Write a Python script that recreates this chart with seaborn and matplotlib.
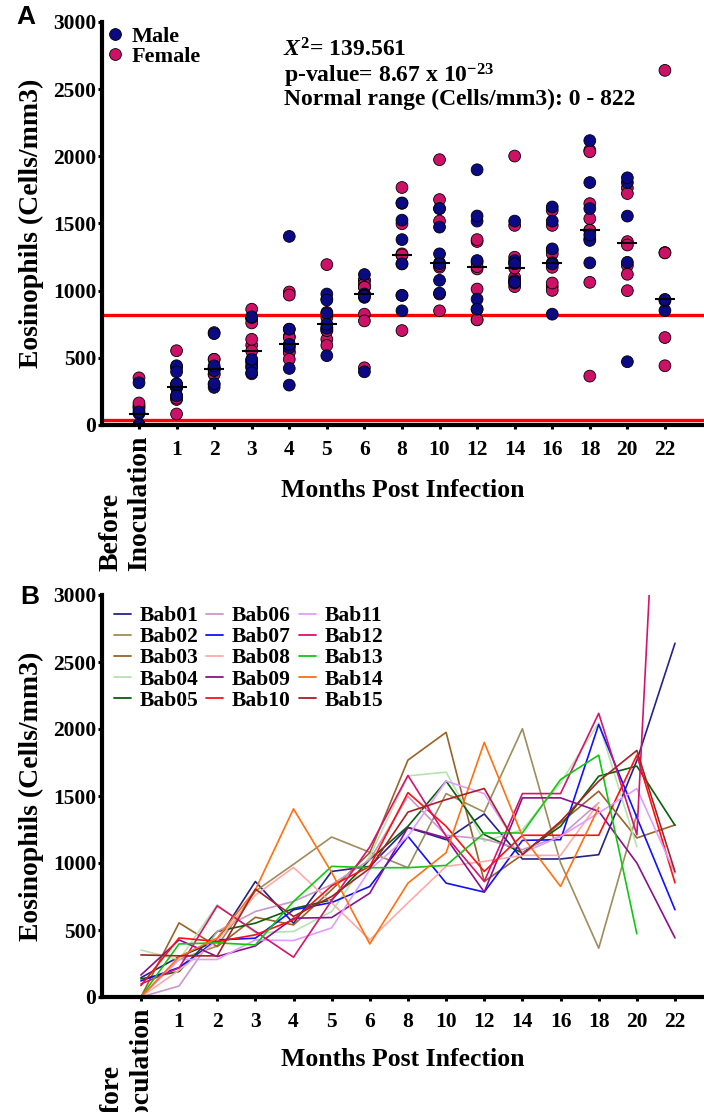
import numpy as np
import pandas as pd
import matplotlib
matplotlib.use("Agg")
import matplotlib.pyplot as plt
from matplotlib.lines import Line2D
from matplotlib.transforms import ScaledTranslation
import seaborn as sns

# Time points (months post infection)
MONTHS = ["Before\nInoculation", "1", "2", "3", "4", "5", "6", "8",
          "10", "12", "14", "16", "18", "20", "22"]

nan = np.nan
# Eosinophil counts (cells/mm3), one value per time point and animal
BAB01 = [144, 300, 420, 862, 550, 937, 975, 1264, 1174, 1366, 1030, 1030, 1062, 1765, 2640]
BAB02 = [0, 280, 380, 790, 990, 1194, 1080, 965, 1518, 1380, 2002, 1002, 364, 1365, nan]
BAB03 = [0, 553, 376, 595, 538, 800, 1077, 1768, 1975, 862, 1062, 1299, 1536, 1187, 1284]
BAB04 = [351, 277, 688, 479, 489, 638, 1050, 1650, 1678, 1162, 1249, 1598, 2045, 1122, nan]
BAB05 = [135, 190, 489, 551, 660, 725, 1025, 1274, 1611, 1212, 1075, 1274, 1648, 1723, 1281]
BAB06 = [0, 82, 489, 638, 713, 838, 1025, 1498, 1207, 1179, 1100, 1200, 1450, nan, nan]
BAB07 = [120, 220, 426, 439, 651, 705, 825, 1199, 850, 783, 1169, 1174, 2034, 1340, 651]
BAB08 = [0, 200, 420, 760, 967, 703, 426, 703, 975, 1012, 1057, 1057, 1450, nan, nan]
BAB09 = [164, 426, 302, 381, 588, 593, 775, 1266, 1187, 783, 1486, 1486, 1386, 1000, 441]
BAB10 = [85, 441, 414, 464, 576, 830, 975, 1525, 1274, 937, 1207, 1207, 1207, 1805, 852]
BAB11 = [0, 280, 280, 426, 421, 516, 950, 1200, 1611, 1518, 1075, 1199, 1374, 1555, 925]
BAB12 = [97, 217, 680, 489, 297, 720, 1120, 1653, 1200, 862, 1518, 1518, 2117, 1211, 6750]
BAB13 = [0, 396, 404, 389, 713, 975, 965, 965, 982, 1224, 1224, 1623, 1805, 471, nan]
BAB14 = [0, 300, 440, 800, 1404, 930, 396, 850, 1077, 1900, 1200, 825, 1415, nan, nan]
BAB15 = [314, 307, 307, 805, 601, 750, 960, 1380, 1473, 1556, 1062, 1311, 1611, 1840, 935]

ANIMALS = ["Bab01", "Bab02", "Bab03", "Bab04", "Bab05", "Bab06", "Bab07", "Bab08",
           "Bab09", "Bab10", "Bab11", "Bab12", "Bab13", "Bab14", "Bab15"]
SEX = ["Female", "Female", "Female", "Female", "Female", "Female", "Female", "Female",
       "Female", "Male", "Male", "Male", "Male", "Male", "Male"]
SERIES = [BAB01, BAB02, BAB03, BAB04, BAB05, BAB06, BAB07, BAB08,
          BAB09, BAB10, BAB11, BAB12, BAB13, BAB14, BAB15]

LINE_COLORS = ["#23238a", "#a08c5b", "#9a6228", "#b5e3b0", "#0b5e0b",
               "#c898c8", "#1010ff", "#ffaaaa", "#8b108b", "#ff1010",
               "#e09cff", "#d4146e", "#10c810", "#ff7010", "#a52222"]
SEX_COLORS = {"Male": "#0a0a85", "Female": "#cc1166"}
LIMIT_LINES = [40, 822]
YTICKS = [0, 500, 1000, 1500, 2000, 2500, 3000]

rows = []
for name, sex, vals in zip(ANIMALS, SEX, SERIES):
    for i, (m, v) in enumerate(zip(MONTHS, vals)):
        rows.append({"animal": name, "sex": sex, "month": m, "pos": i, "value": v})
df = pd.DataFrame(rows)
obs = df.dropna(subset=["value"])

sns.set_theme(style="ticks")
plt.rcParams.update({
    "font.family": ["Liberation Serif", "DejaVu Serif"],
    "font.weight": "bold",
    "axes.labelweight": "bold",
    "mathtext.fontset": "custom",
    "mathtext.rm": "Liberation Serif:bold",
    "mathtext.it": "Liberation Serif:italic:bold",
    "mathtext.bf": "Liberation Serif:bold",
    "axes.edgecolor": "black",
    "xtick.color": "black",
    "ytick.color": "black",
    "text.color": "black",
    "axes.labelcolor": "black",
})

W, H = 704, 1112
fig = plt.figure(figsize=(W / 100, H / 100), dpi=100)


def frame(x0, y_top, x1, y_bot):
    return fig.add_axes([x0 / W, 1 - y_bot / H, (x1 - x0) / W, (y_bot - y_top) / H])


def fpt(x, y):
    return (x / W, 1 - y / H)


def style_axis(ax, xlim, xlabel_y):
    ax.set_xlim(*xlim)
    ax.set_ylim(0, 3000)
    ax.set_yticks(YTICKS)
    ax.set_xticks(range(len(MONTHS)))
    ax.set_xticklabels(MONTHS)
    for side in ("top", "right"):
        ax.spines[side].set_visible(False)
    for side in ("left", "bottom"):
        ax.spines[side].set_linewidth(3)
        ax.spines[side].set_color("black")
    ax.tick_params(axis="both", direction="out", length=3, width=2.2, labelsize=15.5)
    ax.tick_params(axis="x", pad=8)
    ax.tick_params(axis="y", pad=1)
    ax.set_ylabel("Eosinophils (Cells/mm3)", fontsize=20, fontweight="bold")
    ax.yaxis.set_label_coords(-0.097, 0.5)
    ax.set_xlabel("Months Post Infection", fontsize=18.5, fontweight="bold")
    ax.xaxis.set_label_coords(0.5, xlabel_y)
    first = ax.get_xticklabels()[0]
    first.set_rotation(90)
    first.set_fontsize(20)
    first.set_va("top")
    first.set_ha("center")
    first.set_multialignment("left")
    first.set_transform(first.get_transform()
                        + ScaledTranslation(-0.14, 0.05, fig.dpi_scale_trans))


# ---------------- Panel A: individual counts by sex ----------------
axA = frame(102, 22, 704, 425)
for y in LIMIT_LINES:
    axA.axhline(y, color="#ff0000", lw=2.4, zorder=0.5)
sns.stripplot(data=obs, x="month", y="value", order=MONTHS, hue="sex",
              hue_order=["Female", "Male"], palette=SEX_COLORS, jitter=False,
              size=8.5, linewidth=0.6, edgecolor="black", legend=False, ax=axA,
              zorder=2)
sns.pointplot(data=obs, x="month", y="value", order=MONTHS, estimator="median",
              errorbar=None, color="black", marker="_", markersize=14,
              markeredgewidth=1.5, linestyle="none", ax=axA)
style_axis(axA, (-0.985, 15.04), -0.135)

handles = [Line2D([], [], marker="o", ls="none", markerfacecolor=SEX_COLORS[s],
                  markeredgecolor="black", markeredgewidth=0.6, markersize=8.5)
           for s in ("Male", "Female")]
axA.legend(handles, ["Male", "Female"], loc="upper left",
           bbox_to_anchor=fpt(106, 26), bbox_transform=fig.transFigure,
           frameon=False, fontsize=16, handlelength=0.8, handletextpad=0.35,
           labelspacing=0.0, borderpad=0, borderaxespad=0)

fig.text(*fpt(283, 50), r"$X^{2}$= 139.561", fontsize=17, va="center", ha="left")
fig.text(*fpt(284, 76), r"p-value= 8.67 x 10$^{-23}$", fontsize=17, va="center", ha="left")
fig.text(*fpt(284, 99), "Normal range (Cells/mm3): 0 - 822", fontsize=17,
         va="center", ha="left")

# ---------------- Panel B: individual trajectories ----------------
axB = frame(102, 595, 704, 997)
sns.lineplot(data=obs, x="pos", y="value", hue="animal", hue_order=ANIMALS,
             palette=LINE_COLORS, linewidth=1.2, estimator=None, legend=False, ax=axB)
style_axis(axB, (-1.02, 14.76), -0.128)

line_handles = [Line2D([], [], color=c, lw=1.3) for c in LINE_COLORS]
axB.legend(line_handles, ANIMALS, ncol=3, loc="upper left",
           bbox_to_anchor=fpt(114, 606), bbox_transform=fig.transFigure,
           frameon=False, fontsize=15.5, handlelength=0.8, handletextpad=0.4,
           columnspacing=0.35, labelspacing=0.05, borderpad=0, borderaxespad=0)

sans = ["Liberation Sans Narrow", "Liberation Sans", "DejaVu Sans"]
fig.text(*fpt(16, 17), "A", fontsize=19, family=sans, weight="bold", va="center", ha="left")
fig.text(*fpt(20, 597), "B", fontsize=19, family=sans, weight="bold", va="center", ha="left")

fig.savefig("out.png", dpi=100)
